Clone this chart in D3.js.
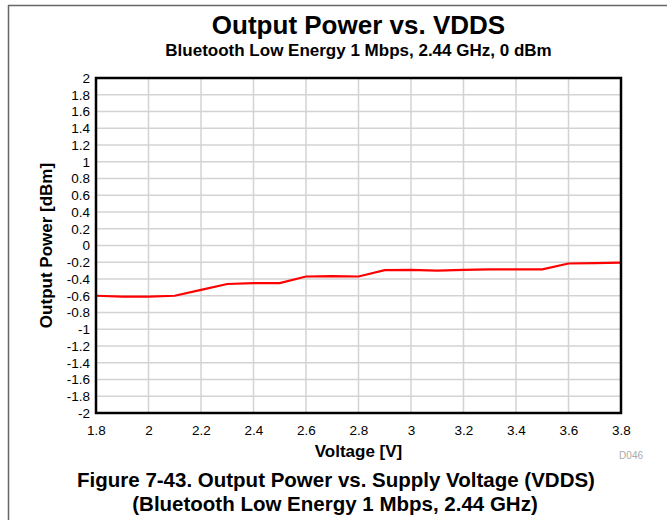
<!DOCTYPE html>
<html>
<head>
<meta charset="utf-8">
<script src="https://cdn.jsdelivr.net/npm/d3@7"></script>
<style>
  html, body { margin: 0; padding: 0; background: #fff; }
  svg text { font-family: "Liberation Sans", Arial, sans-serif; }
</style>
</head>
<body>
<svg id="chart" width="667" height="520"></svg>
<script>
// Supply voltage sweep (V) and measured output power (dBm)
const voltage = [1.8, 1.9, 2.0, 2.1, 2.2, 2.3, 2.4, 2.5, 2.6, 2.7, 2.8, 2.9, 3.0, 3.1, 3.2, 3.3, 3.4, 3.5, 3.6, 3.7, 3.8];
const outputPower = [-0.60, -0.61, -0.61, -0.60, -0.53, -0.46, -0.45, -0.45, -0.37, -0.365, -0.37, -0.295, -0.29, -0.30, -0.29, -0.285, -0.285, -0.285, -0.215, -0.21, -0.205];

const xTicks = [1.8, 2.0, 2.2, 2.4, 2.6, 2.8, 3.0, 3.2, 3.4, 3.6, 3.8];
const yTicks = d3.range(-10, 11).map(i => +(i * 0.2).toFixed(1));

const svg = d3.select("#chart");
const plotLeft = 96, plotRight = 621, plotTop = 78, plotBottom = 413;

const x = d3.scaleLinear().domain([1.8, 3.8]).range([plotLeft, plotRight]);
const y = d3.scaleLinear().domain([-2, 2]).range([plotBottom, plotTop]);

// Page frame lines
svg.append("line").attr("x1", 8).attr("x2", 667).attr("y1", 5.5).attr("y2", 5.5)
  .attr("stroke", "#666").attr("stroke-width", 1.5);
svg.append("line").attr("x1", 8.5).attr("x2", 8.5).attr("y1", 5).attr("y2", 520)
  .attr("stroke", "#666").attr("stroke-width", 1.5);

// Grid
const grid = svg.append("g");
grid.selectAll("line.v").data(xTicks).join("line").attr("class", "v")
  .attr("x1", d => x(d)).attr("x2", d => x(d))
  .attr("y1", plotTop).attr("y2", plotBottom)
  .attr("stroke", "#d3d3d3").attr("stroke-width", 1.5);
grid.selectAll("line.h").data(yTicks).join("line").attr("class", "h")
  .attr("x1", plotLeft).attr("x2", plotRight)
  .attr("y1", d => y(d)).attr("y2", d => y(d))
  .attr("stroke", "#d3d3d3").attr("stroke-width", 1.5);

// Axes with tick labels only
const xAxis = d3.axisBottom(x).tickValues(xTicks).tickSize(0).tickPadding(12)
  .tickFormat(d => String(+d.toFixed(1)));
const gx = svg.append("g").attr("transform", `translate(0,${plotBottom})`).call(xAxis);
gx.select(".domain").remove();
gx.selectAll("text").attr("font-size", 13.5).attr("fill", "#000");

const yAxis = d3.axisLeft(y).tickValues(yTicks).tickSize(0).tickPadding(6)
  .tickFormat(d => String(+d.toFixed(1)));
const gy = svg.append("g").attr("transform", `translate(${plotLeft},0)`).call(yAxis);
gy.select(".domain").remove();
gy.selectAll("text").attr("font-size", 13.5).attr("fill", "#000");

// Data line
const line = d3.line().x((d, i) => x(voltage[i])).y(d => y(d));
svg.append("path").datum(outputPower)
  .attr("d", line).attr("fill", "none")
  .attr("stroke", "#ff0000").attr("stroke-width", 2.2);

// Plot frame
svg.append("rect").attr("x", plotLeft).attr("y", plotTop)
  .attr("width", plotRight - plotLeft).attr("height", plotBottom - plotTop)
  .attr("fill", "none").attr("stroke", "#000").attr("stroke-width", 2.5);

// Titles
const cx = (plotLeft + plotRight) / 2;
svg.append("text").attr("x", cx).attr("y", 34).attr("text-anchor", "middle")
  .attr("font-size", 26).attr("font-weight", "bold").text("Output Power vs. VDDS");
svg.append("text").attr("x", cx).attr("y", 56).attr("text-anchor", "middle")
  .attr("font-size", 17).attr("font-weight", "bold").text("Bluetooth Low Energy 1 Mbps, 2.44 GHz, 0 dBm");

svg.append("text").attr("x", cx).attr("y", 457).attr("text-anchor", "middle")
  .attr("font-size", 17).attr("font-weight", "bold").text("Voltage [V]");
svg.append("text").attr("transform", `translate(52,${(plotTop + plotBottom) / 2}) rotate(-90)`)
  .attr("text-anchor", "middle")
  .attr("font-size", 17).attr("font-weight", "bold").text("Output Power [dBm]");

svg.append("text").attr("x", 643).attr("y", 459).attr("text-anchor", "end")
  .attr("font-size", 10).attr("fill", "#aaa").text("D046");

// Figure caption
svg.append("text").attr("x", 336).attr("y", 487).attr("text-anchor", "middle")
  .attr("font-size", 20.5).attr("font-weight", "bold").text("Figure 7-43. Output Power vs. Supply Voltage (VDDS)");
svg.append("text").attr("x", 335).attr("y", 511).attr("text-anchor", "middle")
  .attr("font-size", 20.5).attr("font-weight", "bold").text("(Bluetooth Low Energy 1 Mbps, 2.44 GHz)");
</script>
</body>
</html>
